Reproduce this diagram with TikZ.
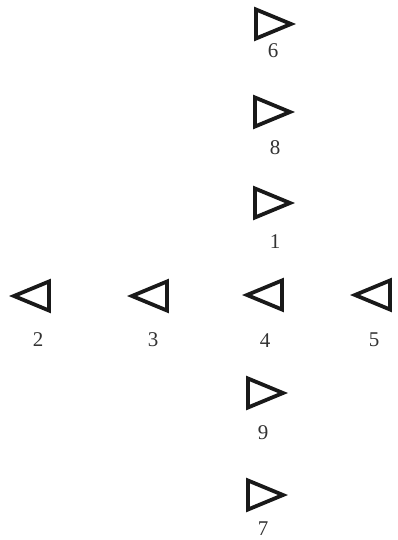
\documentclass[tikz,border=0pt]{standalone}
\usepackage{fontspec}
\setmainfont{Liberation Serif}
\begin{document}
\begin{tikzpicture}[x=1pt,y=-1pt,
  tri/.style={draw=black!90,line width=3.8pt,line join=miter},
  lbl/.style={font=\fontsize{21}{21}\selectfont,text=black!80,inner sep=0pt},
  rtri/.pic={\path[tri] (-18,-14.5)--(-18,14.5)--(17,0)--cycle;},
  ltri/.pic={\path[tri] (18,-14.5)--(18,14.5)--(-17,0)--cycle;}]
\useasboundingbox (0,0) rectangle (398,540);
% right-pointing triangles
\pic at (274,24) {rtri};
\pic at (273,112) {rtri};
\pic at (273,203) {rtri};
\pic at (266,393) {rtri};
\pic at (266,495) {rtri};
% left-pointing triangles
\pic at (31,296) {ltri};
\pic at (149,296) {ltri};
\pic at (264,295) {ltri};
\pic at (372,295) {ltri};
% labels
\node[lbl] (l6) at (273,51) {6};
\node[lbl] (l8) at (275,148) {8};
\node[lbl] (l1) at (275,242) {1};
\node[lbl] (l2) at (38,340) {2};
\node[lbl] (l3) at (153,340) {3};
\node[lbl] (l4) at (265,341) {4};
\node[lbl] (l5) at (374,340) {5};
\node[lbl] (l9) at (263,433) {9};
\node[lbl] (l7) at (263,529) {7};
\end{tikzpicture}
\end{document}
